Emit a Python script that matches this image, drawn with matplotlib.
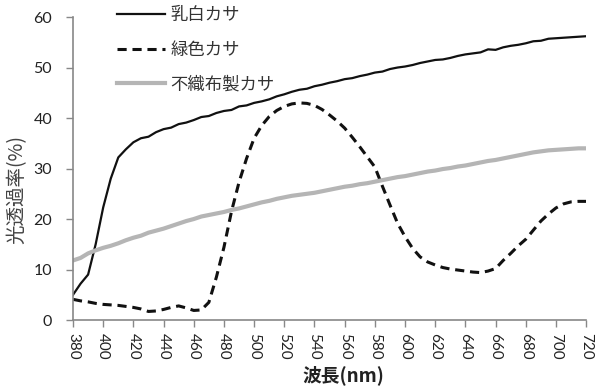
import matplotlib
matplotlib.use("Agg")
import matplotlib.pyplot as plt
import numpy as np

plt.rcParams['font.family'] = ['Lato', 'Noto Sans CJK JP', 'DejaVu Sans']

wavelength = list(range(380, 721, 5))

milk_white = [5.0, 7.2, 9.0, 15.0, 22.3, 28.0, 32.2, 33.8, 35.2, 36.0, 36.3, 37.2, 37.8, 38.1,
              38.8, 39.1, 39.6, 40.2, 40.4, 41.0, 41.4, 41.6, 42.3, 42.5, 43.0, 43.3, 43.7, 44.3,
              44.7, 45.2, 45.6, 45.8, 46.3, 46.6, 47.0, 47.3, 47.7, 47.9, 48.3, 48.6, 49.0, 49.2,
              49.7, 50.0, 50.2, 50.5, 50.9, 51.2, 51.5, 51.6, 51.9, 52.3, 52.6, 52.8, 53.0, 53.6,
              53.5, 54.0, 54.3, 54.5, 54.8, 55.2, 55.3, 55.7, 55.8, 55.9, 56.0, 56.1, 56.2]

green = [4.1, 3.8, 3.6, 3.3, 3.1, 3.0, 2.9, 2.7, 2.5, 2.2, 1.7, 1.8, 2.1, 2.5, 2.8, 2.4, 1.9,
         2.0, 3.5, 8.5, 14.4, 21.5, 27.3, 32.0, 36.0, 38.5, 40.3, 41.5, 42.3, 42.8, 43.0, 42.9,
         42.5, 41.7, 40.6, 39.4, 38.0, 36.2, 34.3, 32.3, 30.3, 26.5, 22.8, 19.2, 16.5, 14.2,
         12.5, 11.5, 10.9, 10.4, 10.1, 9.9, 9.7, 9.5, 9.4, 9.7, 10.2, 11.8, 13.2, 14.7, 16.0,
         17.8, 19.6, 21.0, 22.2, 23.0, 23.4, 23.5, 23.5]

nonwoven = [11.8, 12.3, 13.2, 13.8, 14.3, 14.7, 15.2, 15.8, 16.3, 16.7, 17.3, 17.7, 18.1, 18.6,
            19.1, 19.6, 20.0, 20.5, 20.8, 21.1, 21.4, 21.8, 22.1, 22.5, 22.9, 23.3, 23.6, 24.0,
            24.3, 24.6, 24.8, 25.0, 25.2, 25.5, 25.8, 26.1, 26.4, 26.6, 26.9, 27.1, 27.4, 27.7,
            28.0, 28.3, 28.5, 28.8, 29.1, 29.4, 29.6, 29.9, 30.1, 30.4, 30.6, 30.9, 31.2, 31.5,
            31.7, 32.0, 32.3, 32.6, 32.9, 33.2, 33.4, 33.6, 33.7, 33.8, 33.9, 34.0, 34.0]

labels = ['乳白カサ', '緑色カサ', '不織布製カサ']
x_ticks = list(range(380, 721, 20))
y_ticks = [0, 10, 20, 30, 40, 50, 60]

cjk = ['Noto Sans CJK JP', 'DejaVu Sans']

fig = plt.figure(figsize=(5.96, 3.87), dpi=100)
ax = fig.add_axes([0.1225, 0.173, 0.861, 0.783])

ax.plot(wavelength, milk_white, color='#111111', lw=1.6, label=labels[0])
ax.plot(wavelength, green, color='#111111', lw=2.2, linestyle=(0, (3.0, 1.9)), label=labels[1])
ax.plot(wavelength, nonwoven, color='#b5b5b5', lw=3.0, label=labels[2])

ax.set_xlim(380, 720)
ax.set_ylim(0, 60)
ax.set_xticks(x_ticks)
ax.set_xticklabels([str(v) for v in x_ticks], rotation=-90, fontsize=11, color='#222222')
ax.set_yticks(y_ticks)
ax.set_yticklabels([str(v) for v in y_ticks], fontsize=11.5, color='#222222')

for s in ['top', 'right']:
    ax.spines[s].set_visible(False)
for s in ['left', 'bottom']:
    ax.spines[s].set_color('#888888')
    ax.spines[s].set_linewidth(1.2)
ax.tick_params(axis='both', direction='out', length=5, width=1, color='#888888')
ax.tick_params(axis='y', pad=10)
ax.tick_params(axis='x', pad=4)

ax.set_ylabel('光透過率(%)', fontsize=14, color='#444444', family=cjk)
ax.yaxis.set_label_coords(-0.088, 0.43)
ax.set_xlabel('波長(nm)', fontsize=13.5, fontweight='bold', color='#222222', family=cjk)
ax.xaxis.set_label_coords(0.526, -0.150)

leg = ax.legend(loc='upper left', bbox_to_anchor=(0.085, 1.035), frameon=False,
                handlelength=2.8, handletextpad=0.3, labelspacing=0.95,
                borderpad=0, borderaxespad=0, prop={'family': cjk, 'size': 12.5})
for t in leg.get_texts():
    t.set_color('#333333')

fig.savefig('out.png', dpi=100)
